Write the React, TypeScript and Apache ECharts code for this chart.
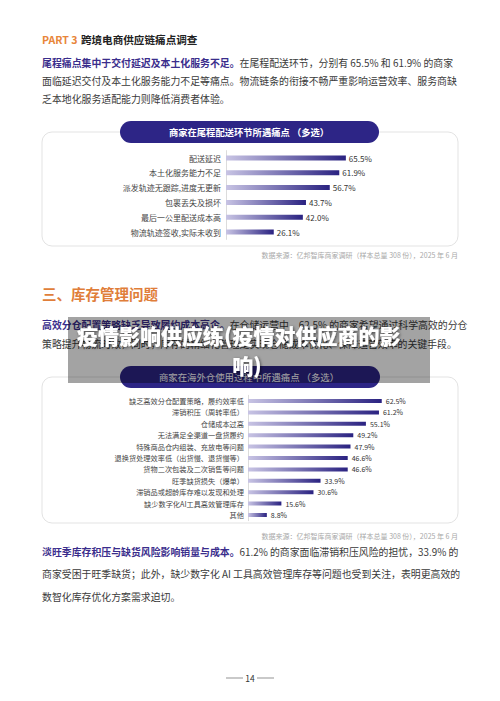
import React, { useEffect, useRef } from "react";
import * as echarts from "echarts";

const FONT = '"Noto Sans CJK SC", "Noto Sans", sans-serif';

const tailCategories = [
  "配送延迟",
  "本土化服务能力不足",
  "派发轨迹无跟踪,进度无更新",
  "包裹丢失及损坏",
  "最后一公里配送成本高",
  "物流轨迹签收,实际未收到",
];
const tailValues = [65.5, 61.9, 56.7, 43.7, 42.0, 26.1];

const whCategories = [
  "缺乏高效分仓配置策略，履约效率低",
  "滞销积压（周转率低）",
  "仓储成本过高",
  "无法满足全渠道一盘货履约",
  "特殊商品仓内组装、充放电等问题",
  "退换货处理效率低（出货慢、退货慢等）",
  "货物二次包装及二次销售等问题",
  "旺季缺货损失（爆单）",
  "滞销品或超龄库存难以发现和处理",
  "缺少数字化AI工具高效管理库存",
  "其他",
];
const whValues = [62.5, 61.2, 55.1, 49.2, 47.9, 46.6, 46.6, 33.9, 30.6, 15.6, 8.8];

const chartTitle1 = "商家在尾程配送环节所遇痛点 （多选）";
const chartTitle2 = "商家在海外仓使用过程中所遇痛点 （多选）";
const sourceText = "数据来源：亿邦智库商家调研（样本总量 308 份），2025 年 6 月";
const overlayLine1 = "疫情影响供应练(疫情对供应商的影";
const overlayLine2 = "响)";

const PURPLE = "#3a2d8c";
const BODY = "#3a3a3a";

function para(x: number, y: number, bold: string, normal: string, size = 9.9) {
  return {
    type: "text",
    x,
    y,
    z: 5,
    style: {
      text: (bold ? `{b|${bold}}` : "") + (normal ? `{n|${normal}}` : ""),
      align: "left",
      verticalAlign: "middle",
      textAlign: "left",
      textVerticalAlign: "middle",
      rich: {
        b: { fill: PURPLE, fontSize: size, fontWeight: "bold", fontFamily: FONT },
        n: { fill: BODY, fontSize: size, fontFamily: FONT },
      },
    },
  };
}

function txt(x: number, y: number, text: string, opts: any) {
  return {
    type: "text",
    x,
    y,
    z: opts.z ?? 5,
    style: {
      text,
      fill: opts.fill,
      fontSize: opts.fontSize,
      fontWeight: opts.fontWeight || "normal",
      fontFamily: FONT,
      align: opts.align || "left",
      verticalAlign: "middle",
      textAlign: opts.align || "left",
      textVerticalAlign: "middle",
      textShadowColor: opts.shadow,
      textShadowBlur: opts.shadow ? 3 : 0,
      textShadowOffsetX: opts.shadow ? 1 : 0,
      textShadowOffsetY: opts.shadow ? 1 : 0,
    },
  };
}

const barGradient = () =>
  new echarts.graphic.LinearGradient(0, 0, 1, 0, [
    { offset: 0, color: "#c8c4e4" },
    { offset: 1, color: "#2a2281" },
  ]);

export default function App() {
  const ref = useRef<HTMLDivElement>(null);

  useEffect(() => {
    document.body.style.margin = "0";
    const chart = echarts.init(ref.current!, null, { renderer: "svg" });

    const yAxisBase = (gridIndex: number, data: string[], fontSize: number, margin: number) => ({
      type: "category",
      gridIndex,
      data,
      inverse: true,
      axisLine: { show: true, lineStyle: { color: "#dcdcdc", width: 1 } },
      axisTick: { show: false },
      axisLabel: { fontSize, color: "#444", margin, fontFamily: FONT },
      splitLine: { show: false },
    });

    const option: any = {
      animation: false,
      backgroundColor: "#ffffff",
      grid: [
        { left: 226, top: 150.6, width: 183, height: 88.8, containLabel: false },
        { left: 248, top: 395.3, width: 214, height: 125.4, containLabel: false },
      ],
      xAxis: [
        { type: "value", gridIndex: 0, min: 0, max: 100, show: false },
        { type: "value", gridIndex: 1, min: 0, max: 100, show: false },
      ],
      yAxis: [yAxisBase(0, tailCategories, 8, 5), yAxisBase(1, whCategories, 7.2, 4)],
      series: [
        {
          type: "bar",
          xAxisIndex: 0,
          yAxisIndex: 0,
          data: tailValues,
          barWidth: 5,
          itemStyle: { color: barGradient() },
          label: {
            show: true,
            position: "right",
            distance: 3,
            fontSize: 8,
            color: "#333",
            fontFamily: FONT,
            formatter: (p: any) => Number(p.value).toFixed(1) + "%",
          },
        },
        {
          type: "bar",
          xAxisIndex: 1,
          yAxisIndex: 1,
          data: whValues,
          barWidth: 4,
          itemStyle: { color: barGradient() },
          label: {
            show: true,
            position: "right",
            distance: 4,
            fontSize: 7,
            color: "#333",
            fontFamily: FONT,
            formatter: (p: any) => Number(p.value).toFixed(1) + "%",
          },
        },
      ],
      graphic: [
        // header
        {
          type: "text",
          x: 42,
          y: 39,
          z: 5,
          style: {
            text: "{o|PART 3} {d|跨境电商供应链痛点调查}",
            align: "left",
            verticalAlign: "middle",
            textAlign: "left",
            textVerticalAlign: "middle",
            rich: {
              o: { fill: "#e8863a", fontSize: 10.6, fontWeight: "bold", fontFamily: FONT },
              d: { fill: "#222", fontSize: 10.6, fontWeight: "bold", fontFamily: FONT },
            },
          },
        },
        para(42, 63, "尾程痛点集中于交付延迟及本土化服务不足。", "在尾程配送环节，分别有 65.5% 和 61.9% 的商家"),
        para(42, 81, "", "面临延迟交付及本土化服务能力不足等痛点。物流链条的衔接不畅严重影响运营效率、服务商缺"),
        para(42, 99, "", "乏本地化服务适配能力则降低消费者体验。"),
        // card 1
        {
          type: "rect",
          z: 0,
          shape: { x: 42, y: 132, width: 416, height: 114, r: 10 },
          style: { fill: "#ffffff", stroke: "#e3e3e3", lineWidth: 1 },
        },
        {
          type: "rect",
          z: 1,
          shape: { x: 120, y: 121, width: 259, height: 22, r: 11 },
          style: { fill: "#2d2586" },
        },
        txt(249, 132, chartTitle1, { fill: "#ffffff", fontSize: 9.3, fontWeight: "bold", align: "center" }),
        txt(458, 255, sourceText, { fill: "#a8a8a8", fontSize: 7, align: "right" }),
        // section 3
        txt(42, 293, "三、库存管理问题", { fill: "#e07e3a", fontSize: 14.5, fontWeight: "bold" }),
        para(42, 325, "高效分仓配置策略缺乏导致履约成本高企。", "在仓储运营中，62.5% 的商家希望通过科学高效的分仓"),
        para(42, 344, "", "策略提升物流时效，同时，库存的精细化管理是实现仓储成本优化、保障运营效率的关键手段。"),
        // card 2
        {
          type: "rect",
          z: 0,
          shape: { x: 42, y: 377, width: 416, height: 146, r: 10 },
          style: { fill: "#ffffff", stroke: "#e3e3e3", lineWidth: 1 },
        },
        {
          type: "rect",
          z: 1,
          shape: { x: 120, y: 366, width: 260, height: 22, r: 11 },
          style: { fill: "#2d2586" },
        },
        txt(249, 377, chartTitle2, { fill: "#ffffff", fontSize: 9.4, align: "center" }),
        txt(458, 536, sourceText, { fill: "#a8a8a8", fontSize: 7, align: "right" }),
        // paragraph 3
        para(42, 552, "淡旺季库存积压与缺货风险影响销量与成本。", "61.2% 的商家面临滞销积压风险的担忧，33.9% 的"),
        para(42, 574, "", "商家受困于旺季缺货；此外，缺少数字化 AI 工具高效管理库存等问题也受到关注，表明更高效的"),
        para(42, 597, "", "数智化库存优化方案需求迫切。"),
        // page number
        { type: "line", z: 5, shape: { x1: 226, y1: 678, x2: 243, y2: 678 }, style: { stroke: "#666", lineWidth: 0.7 } },
        { type: "line", z: 5, shape: { x1: 257, y1: 678, x2: 274, y2: 678 }, style: { stroke: "#666", lineWidth: 0.7 } },
        txt(250, 678, "14", { fill: "#333", fontSize: 8.5, align: "center" }),
        // overlay banner
        {
          type: "rect",
          z: 100,
          shape: { x: 68, y: 317, width: 362, height: 66 },
          style: { fill: "rgba(0,0,0,0.36)" },
        },
        txt(77, 335, overlayLine1, {
          fill: "#ffffff",
          fontSize: 21,
          fontWeight: 900,
          align: "left",
          shadow: "rgba(0,0,0,0.55)",
          z: 101,
        }),
        txt(247, 365, overlayLine2, {
          fill: "#ffffff",
          fontSize: 21,
          fontWeight: 900,
          align: "center",
          shadow: "rgba(0,0,0,0.55)",
          z: 101,
        }),
      ],
    };

    chart.setOption(option);
    return () => chart.dispose();
  }, []);

  return (
    <div
      ref={ref}
      style={{ position: "absolute", left: 0, top: 0, width: 500, height: 701 }}
    />
  );
}
